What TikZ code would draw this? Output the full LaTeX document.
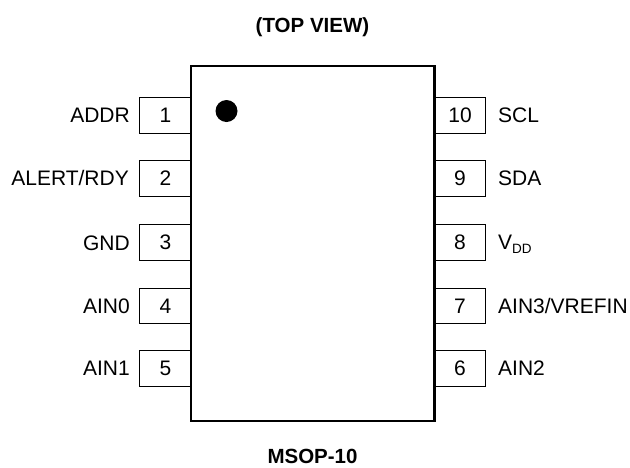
\documentclass[tikz,border=0pt]{standalone}
\usepackage{fontspec}
\setmainfont{Liberation Sans}
\tikzset{body/.style={draw, line width=2.6pt, minimum width=243.5pt, minimum height=355pt, inner sep=0pt}}
\tikzset{pin/.style={draw, line width=1.3pt, minimum width=51.5pt, minimum height=35.5pt, inner sep=0pt}}
\tikzset{pinname/.style={inner sep=0pt}}
\tikzset{title/.style={inner sep=0pt, font=\fontsize{20.5}{24}\selectfont\bfseries}}

\begin{document}
\begin{tikzpicture}[x=1pt, y=1pt, every node/.style={align=center, font=\fontsize{21}{25}\selectfont}]
  \useasboundingbox (0,0) rectangle (630,-467);

  % Left pins
  \node[pin] (Pin1) at (165.5,-115.5) {1};
  \node[pin] (Pin2) at (165.5,-178.5) {2};
  \node[pin] (Pin3) at (165.5,-242.5) {3};
  \node[pin] (Pin4) at (165.5,-306) {4};
  \node[pin] (Pin5) at (165.5,-368.5) {5};

  % Right pins
  \node[pin] (Pin10) at (460,-115.5) {10};
  \node[pin] (Pin9) at (460,-178.5) {9};
  \node[pin] (Pin8) at (460,-242.5) {8};
  \node[pin] (Pin7) at (460,-306) {7};
  \node[pin] (Pin6) at (460,-368.5) {6};

  % Package
  \node[body, fill=white] (Package) at (312.75,-243.5) {};
  \node[circle, fill=black, minimum size=22pt, inner sep=0pt] (Dot) at (226.5,-111) {};

  \node[title] (TopView) at (312.5,-27) {(TOP VIEW)};
  \node[title] (Msop) at (312.5,-456.5) {MSOP-10};

  % Pin names
  \node[pinname, anchor=east] (Addr) at (130,-115) {ADDR};
  \node[pinname, anchor=east] (AlertRdy) at (129,-178) {ALERT/RDY};
  \node[pinname, anchor=east] (Gnd) at (130,-243) {GND};
  \node[pinname, anchor=east] (Ain0) at (130,-306) {AIN0};
  \node[pinname, anchor=east] (Ain1) at (130,-368) {AIN1};

  \node[pinname, anchor=west] (Scl) at (498,-115) {SCL};
  \node[pinname, anchor=west] (Sda) at (498,-178) {SDA};
  \node[pinname, anchor=west] (Vdd) at (498,-244) {V\raisebox{-0.18em}{\fontsize{13.5}{16}\selectfont DD}};
  \node[pinname, anchor=west] (Ain3) at (498,-306) {AIN3/VREFIN};
  \node[pinname, anchor=west] (Ain2) at (498,-368) {AIN2};
\end{tikzpicture}
\end{document}
